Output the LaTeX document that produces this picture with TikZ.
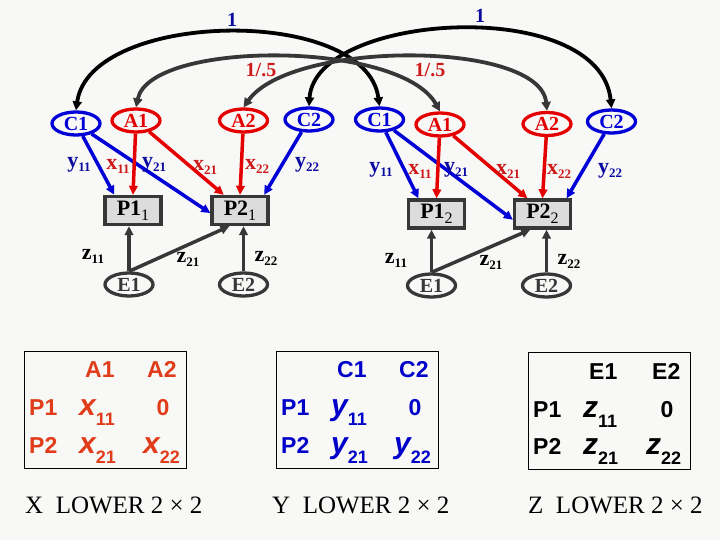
\documentclass[tikz,border=0pt]{standalone}
\usepackage{fontspec}
\setmainfont{Liberation Serif}
\newfontfamily\sansf{Liberation Sans}
\usetikzlibrary{shapes.geometric,arrows.meta}
\definecolor{bg}{RGB}{248,248,246}
\definecolor{myred}{RGB}{228,0,0}
\definecolor{myblue}{RGB}{0,0,215}
\definecolor{lblred}{RGB}{205,25,25}
\definecolor{lblblue}{RGB}{10,10,160}
\definecolor{dgray}{RGB}{55,55,55}
\definecolor{boxgray}{RGB}{220,220,220}
\definecolor{xorange}{RGB}{225,60,25}
\definecolor{yblue}{RGB}{0,0,200}
\newcommand\psub[2]{P#1\raisebox{-5pt}{\fontsize{16}{16}\selectfont\mdseries #2}}
\newcommand\gsub[2]{#1\raisebox{-4pt}{\fontsize{13}{13}\selectfont #2}}
\newcommand\mv[2]{{\fontsize{30}{30}\selectfont\itshape #1}\raisebox{-10pt}{\fontsize{18}{18}\selectfont #2}}
\begin{document}
\begin{tikzpicture}[x=1pt,y=-1pt,
  lat/.style={ellipse, draw, line width=3.3pt, minimum width=48pt, minimum height=23pt, inner sep=0pt, font=\fontsize{20}{20}\selectfont\bfseries},
  blat/.style={lat, draw=myblue, text=myblue},
  rlat/.style={lat, draw=myred, text=myred},
  glat/.style={lat, draw=dgray, text=dgray},
  obs/.style={rectangle, draw=dgray, fill=boxgray, line width=3.3pt, minimum width=56pt, minimum height=28pt, inner sep=0pt, font=\fontsize{22}{22}\selectfont\bfseries},
  mytip/.tip={Triangle[length=9pt,width=8.5pt]},
  barr/.style={draw=myblue, line width=3.5pt, -mytip},
  rarr/.style={draw=myred, line width=3.5pt, -mytip},
  garr/.style={draw=dgray, line width=3.5pt, -mytip},
  cov/.style={line width=3.8pt, {Triangle[length=9pt,width=9pt]}-{Triangle[length=9pt,width=9pt]}},
  lb/.style={inner sep=0pt, font=\fontsize{20}{20}\selectfont\bfseries},
  gl/.style={inner sep=0pt, font=\fontsize{22}{22}\selectfont\bfseries},
  mbox/.style={draw=black, line width=1pt, minimum width=162pt, minimum height=117pt, inner sep=0pt},
  mt/.style={inner sep=0pt, anchor=base west, font=\sansf\bfseries\fontsize{23}{23}\selectfont},
  captxt/.style={inner sep=0pt, anchor=base west, font=\fontsize{25}{25}\selectfont}
]
\fill[bg] (0,0) rectangle (720,540);
\useasboundingbox (0,0) rectangle (720,540);

% ---- left group ----
\node[blat] (C1a) at (76,123.5) {C1};
\node[rlat] (A1a) at (136,120.5) {A1};
\node[rlat] (A2a) at (243.5,120.5) {A2};
\node[blat] (C2a) at (309,119.5) {C2};
\node[obs] (P11) at (133,210.5) {\psub{1}{1}};
\node[obs] (P21) at (240,210.5) {\psub{2}{1}};
\node[glat] (E1a) at (129,284.5) {E1};
\node[glat] (E2a) at (243.5,284.5) {E2};

% ---- right group ----
\node[blat] (C1b) at (379.5,119.5) {C1};
\node[rlat] (A1b) at (440,124.5) {A1};
\node[rlat] (A2b) at (547,124) {A2};
\node[blat] (C2b) at (611.5,121.5) {C2};
\node[obs] (P12) at (436.5,214) {\psub{1}{2}};
\node[obs] (P22) at (542.5,214) {\psub{2}{2}};
\node[glat] (E1b) at (431.5,285.5) {E1};
\node[glat] (E2b) at (546.5,285.5) {E2};

% ---- covariance arcs ----
\draw[cov, black] (C1a.north) .. controls (90,10) and (366,5) .. (C1b.north);
\draw[cov, black] (C2a.north) .. controls (315,12) and (600,-5) .. (C2b.north);
\draw[cov, dgray] (A1a.north) .. controls (150,40) and (400,40) .. (A1b.north);
\draw[cov, dgray] (A2a.north) .. controls (291,40) and (540,40) .. (A2b.north);
\node[lb, text=lblblue] (one1) at (232,20) {1};
\node[lb, text=lblblue] (one2) at (480,16) {1};
\node[lb, text=lblred] (fa) at (261,70) {1/.5};
\node[lb, text=lblred] (fb) at (430,70) {1/.5};

% ---- left paths ----
\draw[barr] (C1a) -- (P11.140);
\draw[barr] (C1a) -- (P21.185);
\draw[rarr] (A1a) -- (P11.north);
\draw[rarr] (A1a) -- (P21.136);
\draw[rarr] (A2a) -- (P21.north);
\draw[barr] (C2a) -- (P21.33);
\draw[garr] (E1a.north) -- (E1a.north |- P11.south);
\draw[garr] (E1a.north) -- (P21.236);
\draw[garr] (E2a.north) -- (E2a.north |- P21.south);

% ---- right paths ----
\draw[barr] (C1b) -- (P12.139);
\draw[barr] (C1b) -- (P22.191);
\draw[rarr] (A1b) -- (P12.north);
\draw[rarr] (A1b) -- (P22.134);
\draw[rarr] (A2b) -- (P22.north);
\draw[barr] (C2b) -- (P22.33);
\draw[garr] (E1b.north) -- (E1b.north |- P12.south);
\draw[garr] (E1b.north) -- (P22.232);
\draw[garr] (E2b.north) -- (E2b.north |- P22.south);

% ---- path labels ----
\node[gl, text=lblblue] (ly11a) at (79,165) {\gsub{y}{11}};
\node[gl, text=lblred]  (lx11a) at (118,166) {\gsub{x}{11}};
\node[gl, text=lblblue] (ly21a) at (154,165) {\gsub{y}{21}};
\node[gl, text=lblred]  (lx21a) at (205,167) {\gsub{x}{21}};
\node[gl, text=lblred]  (lx22a) at (257,166) {\gsub{x}{22}};
\node[gl, text=lblblue] (ly22a) at (307,165) {\gsub{y}{22}};
\node[gl, text=lblblue] (ly11b) at (381,170) {\gsub{y}{11}};
\node[gl, text=lblred]  (lx11b) at (420,171) {\gsub{x}{11}};
\node[gl, text=lblblue] (ly21b) at (456,170) {\gsub{y}{21}};
\node[gl, text=lblred]  (lx21b) at (508,171) {\gsub{x}{21}};
\node[gl, text=lblred]  (lx22b) at (559,171) {\gsub{x}{22}};
\node[gl, text=lblblue] (ly22b) at (610,171) {\gsub{y}{22}};
\node[gl] (lz11a) at (93,256) {\gsub{z}{11}};
\node[gl] (lz21a) at (188,259) {\gsub{z}{21}};
\node[gl] (lz22a) at (266,258) {\gsub{z}{22}};
\node[gl] (lz11b) at (396,260) {\gsub{z}{11}};
\node[gl] (lz21b) at (491,262) {\gsub{z}{21}};
\node[gl] (lz22b) at (569,261) {\gsub{z}{22}};

% ---- X matrix ----
\node[mbox] (XB) at (105,409.5) {};
\begin{scope}[every node/.append style={text=xorange}]
\node[mt] (xA1) at (85,377) {A1};
\node[mt] (xA2) at (147,377) {A2};
\node[mt] (xP1) at (29,415) {P1};
\node[mt] (x11) at (79,415) {\mv{x}{11}};
\node[mt, anchor=base] (x12) at (163,415) {0};
\node[mt] (xP2) at (29,453) {P2};
\node[mt] (x21) at (79,453) {\mv{x}{21}};
\node[mt] (x22) at (143,453) {\mv{x}{22}};
\end{scope}
% ---- Y matrix ----
\node[mbox] (YB) at (357,409.5) {};
\begin{scope}[every node/.append style={text=yblue}]
\node[mt] (yC1) at (337,377) {C1};
\node[mt] (yC2) at (399,377) {C2};
\node[mt] (yP1) at (281,415) {P1};
\node[mt] (y11) at (331,415) {\mv{y}{11}};
\node[mt, anchor=base] (y12) at (415,415) {0};
\node[mt] (yP2) at (281,453) {P2};
\node[mt] (y21) at (331,453) {\mv{y}{21}};
\node[mt] (y22) at (394,453) {\mv{y}{22}};
\end{scope}
% ---- Z matrix ----
\node[mbox] (ZB) at (609,410.5) {};
\node[mt] (zE1) at (589,379) {E1};
\node[mt] (zE2) at (652,379) {E2};
\node[mt] (zP1) at (533,417) {P1};
\node[mt] (z11) at (583,417) {\mv{z}{11}};
\node[mt, anchor=base] (z12) at (667,417) {0};
\node[mt] (zP2) at (533,454) {P2};
\node[mt] (z21) at (583,454) {\mv{z}{21}};
\node[mt] (z22) at (646,454) {\mv{z}{22}};

% ---- captions ----
\node[captxt] (capX) at (25,513) {X\ \ LOWER 2 × 2};
\node[captxt] (capY) at (272,513) {Y\ \ LOWER 2 × 2};
\node[captxt] (capZ) at (528,513) {Z\ \ LOWER 2 × 2};
\end{tikzpicture}
\end{document}
